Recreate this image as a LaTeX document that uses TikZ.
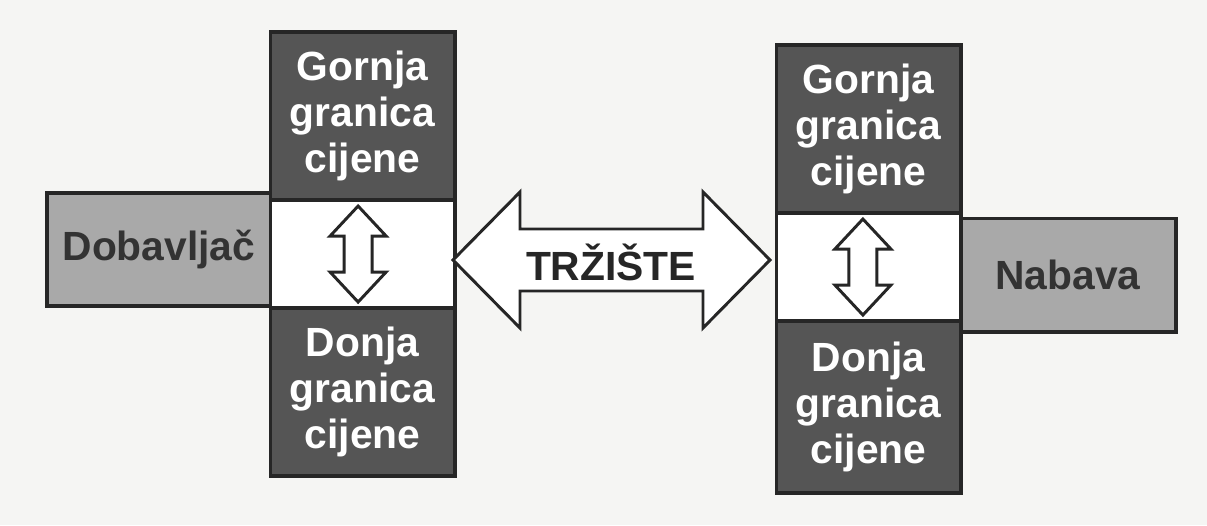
\documentclass[tikz,border=0pt]{standalone}
\usepackage{fontspec}
\setmainfont{Liberation Sans}
\usetikzlibrary{positioning}
\definecolor{tamna}{HTML}{555555}
\definecolor{svijetla}{HTML}{A9A9A9}
\definecolor{papir}{HTML}{F5F5F3}
\definecolor{rub}{HTML}{262626}
\begin{document}
\begin{tikzpicture}[x=0.025cm, y=-0.025cm,
    okvir/.style = {draw=rub, line width=2.8pt, outer sep=0pt, inner sep=0pt, align=center, font=\fontsize{29}{32.5}\selectfont\bfseries},
    tamni/.style = {okvir, fill=tamna, text=white, minimum width=4.6cm, minimum height=4.2cm},
    bijeli/.style = {okvir, fill=white, minimum width=4.6cm, minimum height=2.7cm},
    sivi/.style = {okvir, fill=svijetla, text=black!80, minimum height=2.825cm},
    strelica/.style = {draw=rub, line width=2.1pt, fill=white, line join=miter},
    vstrelica/.pic = {\draw[strelica] (0,-48) -- (28,-18) -- (14,-18) -- (14,18) -- (28,18) -- (0,48) -- (-28,18) -- (-14,18) -- (-14,-18) -- (-28,-18) -- cycle;}]
    \fill[papir] (0,0) rectangle (1207,525);
    \useasboundingbox (0,0) rectangle (1207,525);
    % lijevo
    \node[tamni] (lgornja) at (362.5,116) {Gornja\\granica\\cijene};
    \node[bijeli] (lsredina) [below=0pt of lgornja] {};
    \node[tamni] (ldonja) [below=0pt of lsredina] {Donja\\granica\\cijene};
    \node[sivi, minimum width=5.575cm] (dobavljac) [left=0pt of lsredina, yshift=0.11cm] {Dobavlja\v{c}};
    % desno
    \node[tamni] (rgornja) at (868.5,129) {Gornja\\granica\\cijene};
    \node[bijeli] (rsredina) [below=0pt of rgornja] {};
    \node[tamni, minimum height=4.3cm] (rdonja) [below=0pt of rsredina] {Donja\\granica\\cijene};
    \node[sivi, minimum width=5.375cm] (nabava) [right=0pt of rsredina, yshift=-0.2cm] {Nabava};
    % strelice
    \pic at ([xshift=-0.11cm]lsredina.center) {vstrelica};
    \pic at ([xshift=-0.14cm]rsredina.center) {vstrelica};
    \draw[strelica] (453,260) -- (520,192) -- (520,229) -- (703,229) -- (703,192) -- (770,260)
        -- (703,328) -- (703,291) -- (520,291) -- (520,328) -- cycle;
    \node[font=\fontsize{29}{32.5}\selectfont\bfseries, text=black!85] (trziste) at (611,262) {TRŽIŠTE};
\end{tikzpicture}
\end{document}
